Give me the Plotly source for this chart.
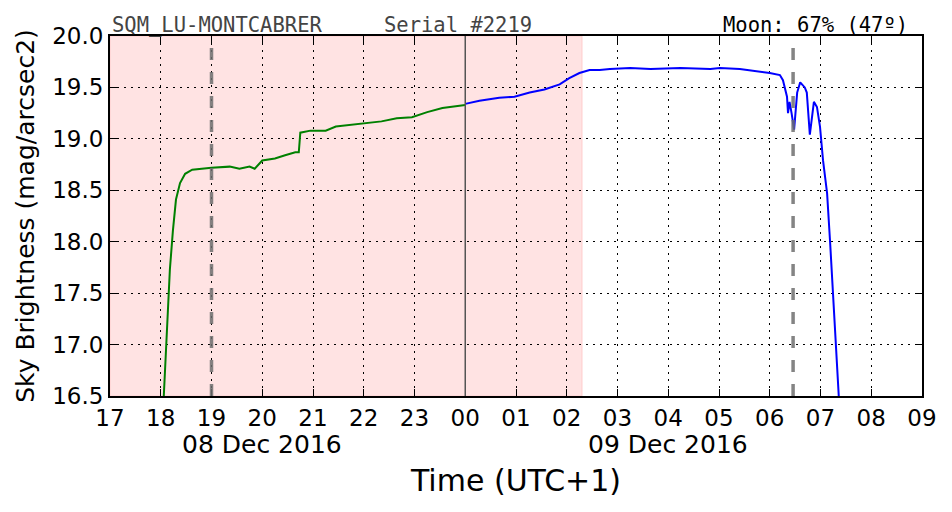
import plotly.graph_objects as go

# Time in hours since 08 Dec 2016 00:00 (UTC+1), sky brightness in mag/arcsec2
dusk_hours = [18.06, 18.12, 18.18, 18.24, 18.30, 18.38, 18.48, 18.62, 18.77, 19.0, 19.36, 19.55,
              19.75, 19.85, 20.0, 20.25, 20.45, 20.65, 20.72, 20.75, 20.95, 21.25, 21.45,
              21.85, 22.15, 22.35, 22.65, 22.95, 23.25, 23.55, 23.85, 24.0]
dusk_mag = [16.5, 17.14, 17.73, 18.11, 18.41, 18.57, 18.66, 18.70, 18.71, 18.72, 18.73, 18.71,
            18.73, 18.71, 18.79, 18.81, 18.84, 18.87, 18.87, 19.06, 19.08, 19.08, 19.12,
            19.14, 19.16, 19.17, 19.20, 19.21, 19.26, 19.30, 19.32, 19.33]

night_hours = [24.0, 24.28, 24.67, 24.97, 25.27, 25.56, 25.86, 26.05, 26.25, 26.45, 26.65,
               26.85, 27.25, 27.65, 28.24, 28.83, 29.02, 29.41, 30.0, 30.20, 30.26, 30.34,
               30.36, 30.39, 30.43, 30.48, 30.54, 30.60, 30.69, 30.73, 30.79, 30.83, 30.87,
               30.93, 30.99, 31.05, 31.13, 31.19, 31.25, 31.33, 31.36]
night_mag = [19.34, 19.37, 19.40, 19.41, 19.45, 19.48, 19.53, 19.59, 19.64, 19.67, 19.67,
             19.68, 19.69, 19.68, 19.69, 19.68, 19.69, 19.68, 19.64, 19.62, 19.57, 19.41,
             19.25, 19.36, 19.25, 19.09, 19.45, 19.55, 19.50, 19.45, 19.04, 19.18, 19.36,
             19.31, 19.12, 18.79, 18.47, 17.99, 17.50, 16.85, 16.5]

tick_vals = list(range(17, 34))
tick_text = ["17", "18", "19", "20", "21", "22", "23", "00", "01", "02", "03", "04",
             "05", "06", "07", "08", "09"]

twilight_end = 26.3
moon_events = [19.0, 30.46]
midnight = 24.0

font = "DejaVu Sans"
mono = "DejaVu Sans Mono"

fig = go.Figure()
fig.add_trace(go.Scatter(x=dusk_hours, y=dusk_mag, mode="lines",
                         line=dict(color="#008000", width=2), showlegend=False))
fig.add_trace(go.Scatter(x=night_hours, y=night_mag, mode="lines",
                         line=dict(color="#0000ff", width=2), showlegend=False))

# Night shading
fig.add_shape(type="rect", xref="x", yref="paper", x0=17, x1=twilight_end, y0=0, y1=1,
              fillcolor="#ffe3e3", line=dict(color="#ffcccc", width=1), layer="below")
for t in moon_events:
    fig.add_shape(type="line", xref="x", yref="paper", x0=t, x1=t, y0=0, y1=1,
                  line=dict(color="rgba(110,110,110,0.85)", width=3.5, dash="12px,12px"))
fig.add_shape(type="line", xref="x", yref="paper", x0=midnight, x1=midnight, y0=0, y1=1,
              line=dict(color="#555555", width=1.5))

fig.add_annotation(x=0, y=1, xref="paper", yref="paper", xanchor="left", yanchor="bottom",
                   text="SQM_LU-MONTCABRER", showarrow=False, yshift=-3,
                   font=dict(family=mono, size=20.5, color="#444444"))
fig.add_annotation(x=0.3345, y=1, xref="paper", yref="paper", xanchor="left", yanchor="bottom",
                   text="Serial #2219", showarrow=False, yshift=-3,
                   font=dict(family=mono, size=20.5, color="#444444"))
fig.add_annotation(x=0.985, y=1, xref="paper", yref="paper", xanchor="right", yanchor="bottom",
                   text="Moon: 67% (47º)", showarrow=False, yshift=-3,
                   font=dict(family=mono, size=20.5, color="black"))
for t, label in [(20, "08 Dec 2016"), (28, "09 Dec 2016")]:
    fig.add_annotation(x=t, y=-0.136, xref="x", yref="paper", yanchor="middle",
                       text=label, showarrow=False,
                       font=dict(family=font, size=25, color="black"))

fig.update_layout(
    width=944, height=504,
    margin=dict(l=102, r=30, t=28, b=116),
    paper_bgcolor="white", plot_bgcolor="white",
    font=dict(family=font, color="black"),
    xaxis=dict(range=[17, 33], tickvals=tick_vals, ticktext=tick_text,
               showgrid=True, gridcolor="black", griddash="2px,5px", gridwidth=1,
               ticks="inside", ticklen=7, tickcolor="black", mirror="ticks",
               showline=True, linecolor="black", linewidth=2, zeroline=False,
               tickfont=dict(size=23),
               title=dict(text="Time (UTC+1)", font=dict(size=30), standoff=40)),
    yaxis=dict(range=[16.5, 20.0], dtick=0.5, tickformat=".1f",
               showgrid=True, gridcolor="black", griddash="2px,5px", gridwidth=1,
               ticks="inside", ticklen=7, tickcolor="black", mirror="ticks",
               showline=True, linecolor="black", linewidth=2, zeroline=False,
               tickfont=dict(size=23),
               title=dict(text="Sky Brightness (mag/arcsec2)", font=dict(size=25), standoff=10)),
)

fig.write_html("out.html")
